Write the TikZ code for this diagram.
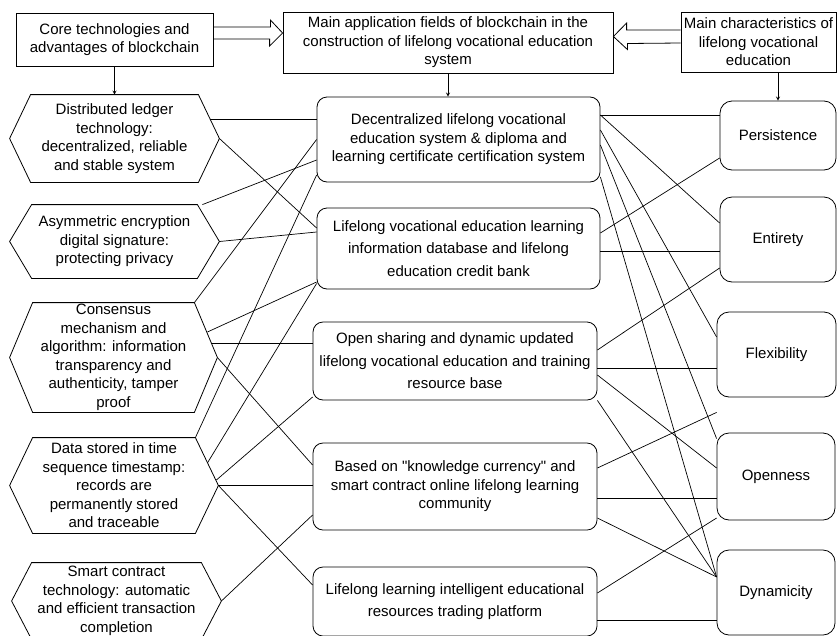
\documentclass[tikz,border=0pt]{standalone}
\usepackage{fontspec}
\setmainfont{Liberation Sans}
\usepackage{tikz}
\usetikzlibrary{arrows, calc}
\tikzset{
	>=stealth,
}
% hexagon round an (invisible) node: name, inset
\newcommand{\hexa}[2]{%
	\draw (#1.west) -- ([xshift=#2]#1.north west) -- ([xshift=-#2]#1.north east)
	-- (#1.east) -- ([xshift=-#2]#1.south east) -- ([xshift=#2]#1.south west) -- cycle;}

\begin{document}
\begin{tikzpicture}[
    x=1pt,
    y=-1pt,
    line width=0.8pt,
    every node/.style={font=\fontsize{15}{18.5}\selectfont, align=center, inner sep=0pt},
    wh/.style 2 args={minimum width=#1, minimum height=#2},
    head/.style={draw, rectangle},
    tech/.style={rectangle},
    field/.style={draw, rounded corners=10pt},
    wide/.style={font=\fontsize{15}{22.5}\selectfont},
    trait/.style={draw, rounded corners=12pt},
    link/.style={draw, line width=0.7pt}
]
\useasboundingbox (0,0) rectangle (837,635);
\clip (0,0) rectangle (837,635);

% --- Top row ---
\node[head, wh={197}{53}] (core) at (114.5,39.5) {Core technologies and\\advantages of blockchain};
\node[head, wh={330}{61}] (app) at (448,42.5) {Main application fields of blockchain in the\\construction of lifelong vocational education\\system};
\node[head, wh={155}{60}] (chr) at (758.5,42) {Main characteristics of\\lifelong vocational\\education};

% --- Core technologies ---
\node[tech, wh={209}{87}] (h1) at (114.5,138.5) {Distributed ledger\\technology:\\decentralized, reliable\\and stable system};
\node[tech, wh={209}{73}] (h2) at (114.5,241.5) {Asymmetric encryption\\digital signature:\\protecting privacy};
\node[tech, wh={207}{109}] (h3) at (113.5,357.5) {Consensus\\mechanism and\\algorithm: information\\transparency and\\authenticity, tamper\\proof};
\node[tech, wh={208}{95}] (h4) at (114,485.5) {Data stored in time\\sequence timestamp:\\records are\\permanently stored\\and traceable};
\node[tech, wh={209}{76}] (h5) at (116.5,601) {Smart contract\\technology: automatic\\and efficient transaction\\completion};
\hexa{h1}{21}
\hexa{h2}{22}
\hexa{h3}{23}
\hexa{h4}{23}
\hexa{h5}{20}

% --- Application fields ---
\node[field, wh={283}{85}] (b1) at (458.5,139.5) {Decentralized lifelong vocational\\education system \& diploma and\\learning certificate certification system};
\node[field, wide, wh={283}{81}] (b2) at (458.5,248.5) {Lifelong vocational education learning\\information database and lifelong\\education credit bank};
\node[field, wide, wh={284}{78}] (b3) at (455,361) {Open sharing and dynamic updated\\lifelong vocational education and training\\resource base};
\node[field, wh={284}{87}] (b4) at (455,486.5) {Based on \textquotedbl knowledge currency\textquotedbl{} and\\smart contract online lifelong learning\\community};
\node[field, wide, wh={284}{69}] (b5) at (455,601.5) {Lifelong learning intelligent educational\\resources trading platform};

% --- Characteristics ---
\node[trait, wh={116}{69}] (per) at (778,135.5) {Persistence};
\node[trait, wh={116}{85}] (ent) at (778,239.5) {Entirety};
\node[trait, wh={119}{85}] (flx) at (776.5,354.5) {Flexibility};
\node[trait, wh={118}{87}] (opn) at (776,476.5) {Openness};
\node[trait, wh={118}{85}] (dyn) at (776,592.5) {Dynamicity};

% --- Hollow arrows ---
\draw ([yshift=12.5]core.east) -- ++(57,0) -- ++(0,-7) -- ([yshift=9.5]app.west)
-- ++(-13,13) -- ++(0,-7) -- ([yshift=0.5]core.east);
\draw ([yshift=12]chr.west) -- ++(-54,0) -- ++(0,-7) -- ([yshift=6]app.east)
-- ++(14,13) -- ++(0,-6) -- ([yshift=-1]chr.west);

% --- Down arrows ---
\draw[->] (core) -- (h1);
\draw[->] (app.south) -- (app.south |- b1.north);
\draw[->] (per.north |- chr.south) -- (per.north);

% --- Technologies -> fields ---
\draw[link] ([xshift=-9,yshift=19.5]h1.east) -- ([yshift=20.5]b1.west);
\draw[link] (h1.east) -- ([yshift=20.5]b2.west);
\draw[link] ([xshift=-17]h2.north east) -- ([yshift=-20.5]b1.west);
\draw[link] (h2.east) -- ([yshift=16.5]b2.west);
\draw[link] ([xshift=-23]h3.north east) -- (b1.west);
\draw[link] ([xshift=-10,yshift=25.5]h3.east) -- ([yshift=-33.5]b2.west);
\draw[link] ([xshift=-6,yshift=14.5]h3.east) -- ([yshift=18]b3.west);
\draw[link] (h3.east) -- ([yshift=21.5]b4.west);
\draw[link] ([xshift=-23]h4.north east) -- ([yshift=-35.5]b1.west);
\draw[link] ([xshift=-11,yshift=22.5]h4.east) -- ([yshift=-35]b2.west);
\draw[link] ([xshift=-2,yshift=5.5]h4.east) -- ([yshift=-36]b3.west);
\draw[link] (h4.east) -- (h4.east -| b4.west);
\draw[link] (h4.east) -- ([yshift=16.5]b5.west);
\draw[link] (h5.east) -- ([yshift=-28.5]b4.west);

% --- Fields -> characteristics ---
\draw[link] ([yshift=24.5]b1.east) -- ([yshift=20.5]per.west);
\draw[link] ([yshift=24.5]b1.east) -- ([yshift=16.5]ent.west);
\draw[link] ([yshift=9.5]b1.east) -- ([yshift=17.5]flx.west);
\draw[link] ([yshift=-5.5]b1.east) -- ([yshift=-6]opn.north west);
\draw[link] ([yshift=-37.5]b1.east) -- ([yshift=15.5]dyn.west);
\draw[link] ([yshift=-22.5]per.west) -- ([yshift=15.5]b2.east);
\draw[link] ([yshift=-2.5]b2.east) -- ([yshift=-11.5]ent.west);
\draw[link] ([yshift=-28.5]ent.west) -- ([yshift=11]b3.east);
\draw[link] ([yshift=-7]b3.east) -- ([yshift=-13.5]flx.west);
\draw[link] ([yshift=-14]b3.east) -- ([yshift=8.5]opn.west);
\draw[link] (b3.south east) -- ([yshift=15.5]dyn.west);
\draw[link] ([yshift=-15]flx.south west) -- ([yshift=18.5]b4.east);
\draw[link] ([yshift=-11.5]b4.east) -- ([yshift=-21.5]opn.west);
\draw[link] ([yshift=-31.5]b4.east) -- ([yshift=15.5]dyn.west);
\draw[link] ([yshift=-41.5]opn.west) -- ([yshift=8.5]b5.east);
\draw[link] ([yshift=-18.5]b5.east) -- ([yshift=-27.5]dyn.west);
\end{tikzpicture}
\end{document}
